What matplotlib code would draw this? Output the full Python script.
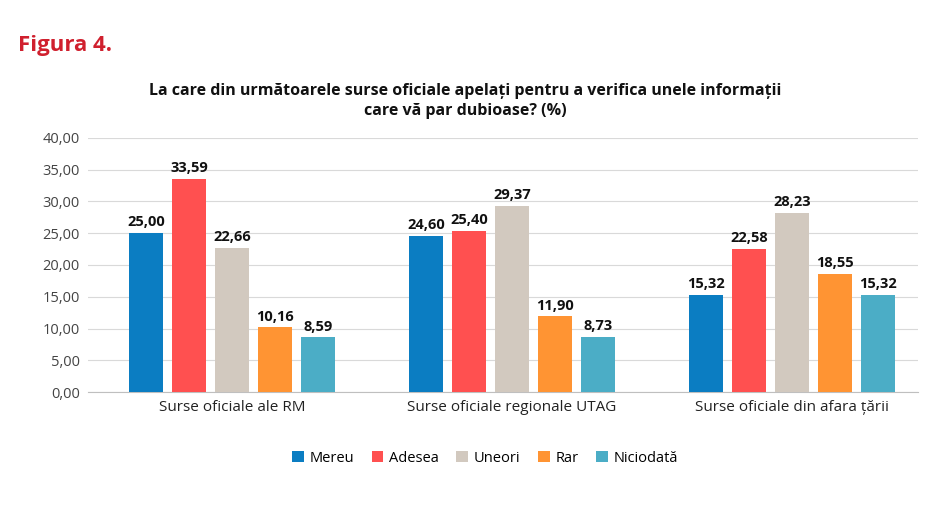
import matplotlib.pyplot as plt
import numpy as np

plt.rcParams['font.family'] = ['Open Sans', 'DejaVu Sans']

categories = ["Surse oficiale ale RM", "Surse oficiale regionale UTAG", "Surse oficiale din afara țării"]
series = ["Mereu", "Adesea", "Uneori", "Rar", "Niciodată"]
values = [
    [25.00, 24.60, 15.32],
    [33.59, 25.40, 22.58],
    [22.66, 29.37, 28.23],
    [10.16, 11.90, 18.55],
    [8.59, 8.73, 15.32],
]
colors = ["#0B7DC2", "#FF5050", "#D2C9BF", "#FF9433", "#4BADC6"]

fig = plt.figure(figsize=(9.36, 5.08), dpi=100)
W, H = 936, 508
ax = fig.add_axes([88 / W, 1 - 392 / H, 830 / W, 254 / H])

x = np.arange(len(categories))
step = 43 / 280
width = 34 / 280
for i, (name, vals) in enumerate(zip(series, values)):
    pos = x + (i - 2) * step
    ax.bar(pos, vals, width, color=colors[i], label=name, zorder=3)
    for p, v in zip(pos, vals):
        ax.text(p, v + 0.6, f"{v:.2f}".replace(".", ","), ha="center", va="bottom",
                fontsize=10.5, fontweight="bold", color="#111111")

ax.set_xlim(-0.514, 2.45)
ax.set_ylim(0, 40)
ax.set_yticks(np.arange(0, 41, 5))
ax.set_yticklabels([f"{t:.2f}".replace(".", ",") for t in np.arange(0, 41, 5)], fontsize=10.5, color="#444444")
ax.set_xticks(x)
ax.set_xticklabels(categories, fontsize=11, color="#222222")
ax.tick_params(axis="both", length=0, pad=6)
ax.grid(axis="y", color="#D9D9D9", linewidth=0.8, zorder=0)
for s in ["top", "right", "left"]:
    ax.spines[s].set_visible(False)
ax.spines["bottom"].set_color("#BFBFBF")

fig.text(18 / W, 1 - 45 / H, "Figura 4.", color="#D0202E", fontsize=16, fontweight="bold", va="center")
fig.text(465 / W, 1 - 101 / H,
         "La care din următoarele surse oficiale apelați pentru a verifica unele informații\ncare vă par dubioase? (%)",
         ha="center", va="center", fontsize=11.5, fontweight="bold", color="#111111", linespacing=1.3)

fig.legend(loc="center", bbox_to_anchor=(485 / W, 1 - 458 / H), ncol=5, frameon=False,
           fontsize=10.5, handlelength=0.8, handleheight=0.8, columnspacing=1.2, handletextpad=0.4)

fig.savefig("out.png", dpi=100)
